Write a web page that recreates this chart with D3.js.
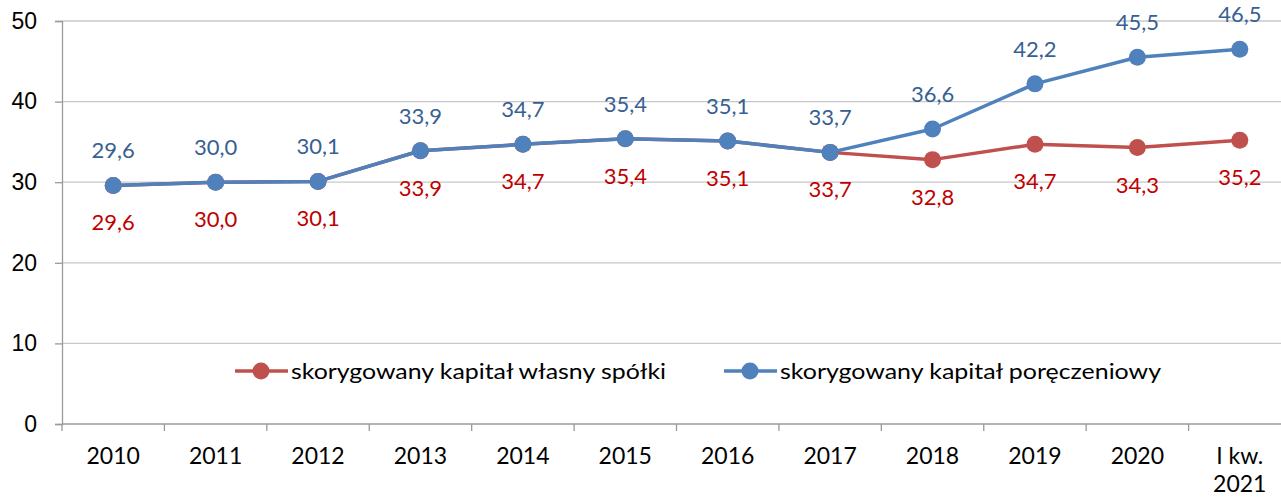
<!DOCTYPE html>
<html>
<head>
<meta charset="utf-8">
<script src="https://cdn.jsdelivr.net/npm/d3@7"></script>
<style>
  body { margin: 0; background: #fff; }
  svg { font-family: Lato, "Open Sans", sans-serif; }
</style>
</head>
<body>
<div id="chart"></div>
<script>
const categories = ["2010", "2011", "2012", "2013", "2014", "2015", "2016", "2017", "2018", "2019", "2020", "I kw.\n2021"];
const ownCapital = [29.6, 30.0, 30.1, 33.9, 34.7, 35.4, 35.1, 33.7, 32.8, 34.7, 34.3, 35.2];
const guaranteeCapital = [29.6, 30.0, 30.1, 33.9, 34.7, 35.4, 35.1, 33.7, 36.6, 42.2, 45.5, 46.5];
const yTicks = [0, 10, 20, 30, 40, 50];
const seriesNames = ["skorygowany kapitał własny spółki", "skorygowany kapitał poręczeniowy"];

const width = 1281, height = 499;
const plotLeft = 62, plotRight = 1291, plotTop = 21, plotBottom = 424;

const svg = d3.select("#chart").append("svg")
    .attr("width", width)
    .attr("height", height);

const x = d3.scaleBand().domain(categories).range([plotLeft, plotRight]);
const y = d3.scaleLinear().domain([0, 50]).range([plotBottom, plotTop]);

// gridlines
svg.append("g")
    .selectAll("line")
    .data(yTicks.filter(d => d > 0))
    .enter()
    .append("line")
    .attr("x1", plotLeft).attr("x2", width)
    .attr("y1", d => y(d)).attr("y2", d => y(d))
    .attr("stroke", "#c8c8c8")
    .attr("stroke-width", 1.3);

// y axis
const yAxis = svg.append("g")
    .attr("transform", `translate(${plotLeft},0)`)
    .call(d3.axisLeft(y).tickValues(yTicks).tickSize(7).tickPadding(18));
yAxis.select(".domain").attr("stroke", "#9a9a9a").attr("stroke-width", 1.3);
yAxis.selectAll(".tick line").attr("stroke", "#9a9a9a").attr("stroke-width", 1.3);
yAxis.selectAll("text").attr("font-size", 23).attr("fill", "#000").attr("font-family", "inherit");

// x axis line + ticks at band edges
svg.append("line")
    .attr("x1", plotLeft).attr("x2", width)
    .attr("y1", plotBottom).attr("y2", plotBottom)
    .attr("stroke", "#9a9a9a").attr("stroke-width", 1.3);
svg.append("g")
    .selectAll("line")
    .data(categories)
    .enter()
    .append("line")
    .attr("x1", d => x(d)).attr("x2", d => x(d))
    .attr("y1", plotBottom).attr("y2", plotBottom + 7)
    .attr("stroke", "#9a9a9a").attr("stroke-width", 1.3);

const cx = d => x(d) + x.bandwidth() / 2;

svg.append("g")
    .selectAll("text")
    .data(categories)
    .enter()
    .append("text")
    .attr("x", d => cx(d))
    .attr("y", 464)
    .attr("text-anchor", "middle")
    .attr("font-size", 23)
    .attr("fill", "#000")
    .each(function(d) {
        const parts = d.split("\n");
        d3.select(this).selectAll("tspan")
            .data(parts)
            .enter()
            .append("tspan")
            .attr("x", cx(d))
            .attr("dy", (p, i) => i === 0 ? 0 : 28)
            .text(p => p);
    });

const line = d3.line()
    .x((d, i) => cx(categories[i]))
    .y(d => y(d));

function drawSeries(values, color) {
    svg.append("path")
        .datum(values)
        .attr("d", line)
        .attr("fill", "none")
        .attr("stroke", color)
        .attr("stroke-width", 3.5)
        .attr("stroke-linejoin", "round");
    svg.append("g")
        .selectAll("circle")
        .data(values)
        .enter()
        .append("circle")
        .attr("cx", (d, i) => cx(categories[i]))
        .attr("cy", d => y(d))
        .attr("r", 8.5)
        .attr("fill", color);
}

drawSeries(ownCapital, "#c0504d");
drawSeries(guaranteeCapital, "#4f81bd");

const fmt = v => v.toFixed(1).replace(".", ",");

svg.append("g")
    .selectAll("text")
    .data(guaranteeCapital)
    .enter()
    .append("text")
    .attr("x", (d, i) => cx(categories[i]))
    .attr("y", d => y(d) - 27)
    .attr("text-anchor", "middle")
    .attr("font-size", 22)
    .attr("fill", "#376092")
    .text(d => fmt(d));

svg.append("g")
    .selectAll("text")
    .data(ownCapital)
    .enter()
    .append("text")
    .attr("x", (d, i) => cx(categories[i]))
    .attr("y", d => y(d) + 45)
    .attr("text-anchor", "middle")
    .attr("font-size", 22)
    .attr("fill", "#c00000")
    .text(d => fmt(d));

// legend
const legendItems = [
    { name: seriesNames[0], color: "#c0504d", x: 235, len: 375 },
    { name: seriesNames[1], color: "#4f81bd", x: 724, len: 381 }
];
const lg = svg.append("g").selectAll("g")
    .data(legendItems)
    .enter()
    .append("g")
    .attr("transform", d => `translate(${d.x},371)`);
lg.append("line")
    .attr("x1", 0).attr("x2", 53)
    .attr("stroke", d => d.color)
    .attr("stroke-width", 3.5);
lg.append("circle")
    .attr("cx", 26).attr("r", 8.5)
    .attr("fill", d => d.color);
lg.append("text")
    .attr("x", 56)
    .attr("y", 8)
    .attr("font-size", 21)
    .attr("fill", "#000")
    .attr("textLength", d => d.len)
    .attr("lengthAdjust", "spacingAndGlyphs")
    .text(d => d.name);
</script>
</body>
</html>
